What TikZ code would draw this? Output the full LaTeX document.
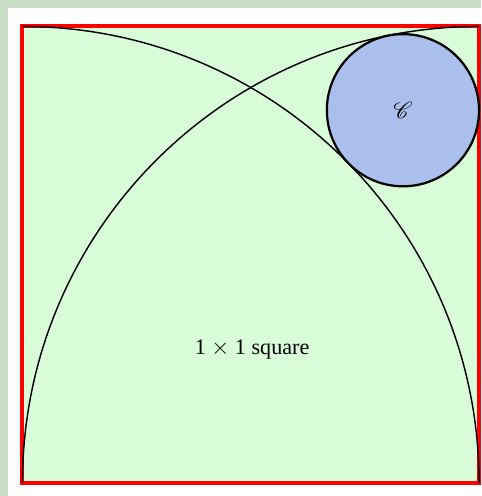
\documentclass[tikz,border=0pt]{standalone}
\usepackage{fontspec}
\setmainfont{Liberation Serif}
\usepackage{mathrsfs}
\usepackage{tikz}
\usetikzlibrary{positioning}

\definecolor{pagegreen}{RGB}{200,221,195}
\definecolor{squaregreen}{RGB}{217,253,217}
\definecolor{circleblue}{RGB}{170,191,235}

\begin{document}
\begin{tikzpicture}[x=10cm, y=10cm, font=\fontsize{13.8}{16}\selectfont]
\tikzstyle{unitsq}=[rectangle, draw=red, line width=2.5pt, fill=squaregreen, minimum size=10cm, inner sep=0pt, outer sep=0pt]
\tikzstyle{bigarc}=[draw=black, line width=0.9pt]
\tikzstyle{disc}=[circle, draw=black, line width=1.4pt, fill=circleblue, minimum size=3.333cm, inner sep=0pt, outer sep=0pt]
% page margin
\fill[pagegreen] (-0.0492,-0.0284) rectangle (1.0044,1.0579);
\fill[white] (-0.0317,-0.0284) rectangle (1.0044,1.0404);
\useasboundingbox (-0.0492,-0.0284) rectangle (1.0044,1.0579);
\node[unitsq, anchor=south west] (sq) at (0,0) {};
\draw[bigarc] (sq.north west) arc[start angle=90, end angle=0, radius=10cm];
\draw[bigarc] (sq.south west) arc[start angle=180, end angle=90, radius=10cm];
\node[disc] (C) at (5/6,0.8165) {$\mathscr{C}$};
\node (lbl) at (0.503,0.292) {1 $\times$ 1 square};
\end{tikzpicture}
\end{document}
